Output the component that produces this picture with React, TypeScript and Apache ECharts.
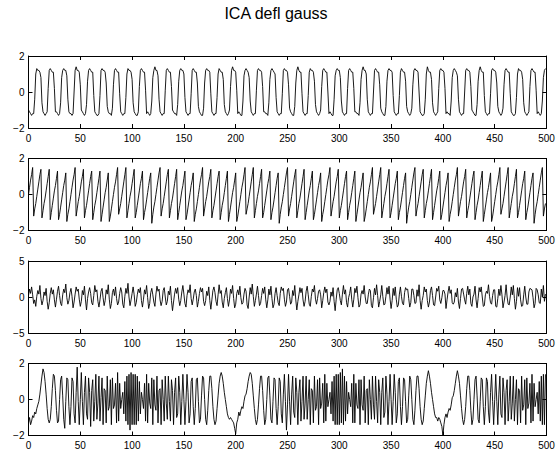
import React, { useEffect, useRef } from "react";
import * as echarts from "echarts";

const titleText = "ICA defl gauss";
const xMin = 0;
const xMax = 500;
const xStep = 50;
const yRanges = [
  [-2, 2, 2],
  [-2, 2, 2],
  [-5, 5, 5],
  [-2, 2, 2],
];

// signal 1: square-like wave
const s1 = [
  -1.0,-1.1,-1.2,-1.3,-1.2,-1.2,-0.4,1.0,1.3,1.2,1.2,1.1,0.8,
  -0.6,-1.1,-1.2,-1.3,-1.2,-1.1,0.2,1.2,1.3,1.2,1.1,1.1,0.2,
  -1.1,-1.1,-1.2,-1.3,-1.2,-0.6,0.8,1.2,1.3,1.2,1.2,0.9,
  -0.4,-1.1,-1.2,-1.2,-1.3,-1.2,0.0,1.2,1.4,1.2,1.2,1.1,0.4,
  -1.0,-1.1,-1.2,-1.3,-1.2,-0.7,0.6,1.2,1.3,1.2,1.1,1.1,
  -0.2,-1.1,-1.2,-1.3,-1.3,-1.2,-0.2,1.2,1.3,1.2,1.2,1.1,0.5,
  -0.8,-1.1,-1.2,-1.2,-1.3,-0.9,0.4,1.2,1.3,1.2,1.1,1.1,
  -0.1,-1.1,-1.2,-1.3,-1.2,-1.2,-0.3,1.0,1.3,1.2,1.2,1.1,0.7,
  -0.6,-1.1,-1.2,-1.3,-1.3,-1.1,0.3,1.2,1.3,1.2,1.1,1.1,0.1,
  -1.2,-1.1,-1.2,-1.3,-1.2,-0.5,0.8,1.2,1.4,1.2,1.2,0.9,
  -0.4,-1.1,-1.2,-1.3,-1.2,-1.2,0.1,1.2,1.3,1.2,1.1,1.1,0.3,
  -1.0,-1.1,-1.2,-1.2,-1.3,-0.7,0.6,1.2,1.3,1.2,1.2,1.0,
  -0.3,-1.1,-1.2,-1.3,-1.2,-1.2,-0.1,1.2,1.3,1.2,1.1,1.1,0.5,
  -0.8,-1.1,-1.2,-1.3,-1.3,-0.9,0.5,1.2,1.3,1.2,1.2,1.1,
  -0.1,-1.1,-1.2,-1.3,-1.2,-1.2,-0.3,1.0,1.3,1.2,1.1,1.1,0.7,
  -0.7,-1.1,-1.2,-1.3,-1.2,-1.0,0.3,1.2,1.4,1.2,1.2,1.1,0.1,
  -1.2,-1.1,-1.2,-1.3,-1.3,-0.5,0.9,1.2,1.3,1.2,1.1,0.8,
  -0.5,-1.1,-1.2,-1.3,-1.2,-1.2,0.1,1.2,1.3,1.2,1.2,1.1,0.3,
  -1.1,-1.1,-1.2,-1.2,-1.3,-0.6,0.7,1.2,1.3,1.2,1.1,1.0,
  -0.3,-1.1,-1.2,-1.3,-1.2,-1.2,-0.1,1.2,1.3,1.2,1.2,1.1,0.4,
  -0.9,-1.1,-1.2,-1.3,-1.3,-0.8,0.5,1.2,1.4,1.2,1.1,1.1,
  -0.1,-1.1,-1.2,-1.3,-1.2,-1.2,-0.2,1.1,1.3,1.2,1.2,1.1,0.6,
  -0.7,-1.1,-1.2,-1.3,-1.2,-1.0,0.3,1.2,1.3,1.2,1.1,1.1,0.0,
  -1.2,-1.1,-1.2,-1.3,-1.3,-0.4,0.9,1.2,1.3,1.2,1.2,0.8,
  -0.5,-1.1,-1.2,-1.3,-1.2,-1.2,0.2,1.2,1.3,1.2,1.1,1.1,0.2,
  -1.1,-1.1,-1.2,-1.2,-1.3,-0.6,0.7,1.2,1.4,1.2,1.2,1.0,
  -0.4,-1.1,-1.2,-1.3,-1.2,-1.2,0.0,1.2,1.3,1.2,1.1,1.1,0.4,
  -0.9,-1.1,-1.2,-1.3,-1.3,-0.8,0.6,1.2,1.3,1.2,1.2,1.1,
  -0.2,-1.1,-1.2,-1.3,-1.2,-1.2,-0.2,1.1,1.3,1.2,1.1,1.1,0.6,
  -0.8,-1.1,-1.2,-1.3,-1.2,-0.9,0.4,1.2,1.3,1.2,1.2,1.1,
  0.0,-1.1,-1.2,-1.3,-1.3,-1.2,-0.4,1.0,1.4,1.2,1.1,1.1,0.7,
  -0.6,-1.1,-1.2,-1.3,-1.2,-1.1,0.2,1.2,1.3,1.2,1.2,1.1,0.2,
  -1.2,-1.1,-1.2,-1.2,-1.3,-0.5,0.8,1.2,1.3,1.2,1.1,0.9,
  -0.4,-1.1,-1.2,-1.3,-1.2,-1.2,0.0,1.2,1.3,1.2,1.2,1.1,0.3,
  -1.0,-1.1,-1.2,-1.3,-1.3,-0.7,0.6,1.2,1.4,1.2,1.1,1.1,
  -0.2,-1.1,-1.2,-1.3,-1.2,-1.2,-0.1,1.2,1.3,1.2,1.2,1.1,0.5,
  -0.8,-1.1,-1.2,-1.3,-1.2,-0.9,0.4,1.2,1.3,1.2,1.1,1.1,
  -0.1,-1.1,-1.2,-1.3,-1.3,-1.2,-0.3,1.0,1.3,1.2,1.2,1.1,0.7,
  -0.6,-1.1,-1.2,-1.3,-1.2,-1.1,0.3,1.2,1.3,1.2,1.1,1.1,0.1,
  -1.2,-1.1,-1.2,-1.3,-1.2,-0.5,0.8,1.2,1.3,
];

// signal 2: sawtooth
const s2 = [
  0.0,0.4,0.8,1.1,1.5,
  -1.2,-0.8,-0.5,-0.1,0.3,0.7,1.1,1.4, -1.3,-0.9,-0.5,-0.2,0.2,0.6,1.0,1.4, -1.4,-1.0,-0.6,-0.2,0.2,0.5,0.9,1.3, -1.4,-1.1,-0.7,-0.3,0.1,0.5,0.8,1.2, -1.5,-1.1,-0.8,-0.4,0.0,0.4,0.8,1.1,1.5,
  -1.2,-0.8,-0.4,-0.1,0.3,0.7,1.0,1.4, -1.3,-0.9,-0.6,-0.2,0.2,0.6,1.0,1.3, -1.4,-1.0,-0.6,-0.3,0.1,0.5,0.9,1.3, -1.5,-1.1,-0.7,-0.3,0.1,0.4,0.8,1.2, -1.5,-1.2,-0.8,-0.4,0.0,0.4,0.7,1.1,1.5,
  -1.1,-0.8,-0.5,-0.1,0.3,0.7,1.1,1.5, -1.3,-0.9,-0.5,-0.1,0.2,0.6,1.0,1.4, -1.3,-1.0,-0.6,-0.2,0.2,0.6,0.9,1.3, -1.4,-1.0,-0.7,-0.3,0.1,0.5,0.9,1.2, -1.6,-1.1,-0.7,-0.4,0.0,0.4,0.8,1.2,1.5,
  -1.2,-0.8,-0.5,-0.1,0.3,0.7,1.1,1.4, -1.3,-0.9,-0.5,-0.2,0.2,0.6,1.0,1.4, -1.4,-1.0,-0.6,-0.2,0.2,0.5,0.9,1.3, -1.4,-1.1,-0.7,-0.3,0.1,0.5,0.8,1.2, -1.5,-1.1,-0.8,-0.4,0.0,0.4,0.8,1.1,1.5,
  -1.2,-0.8,-0.4,-0.1,0.3,0.7,1.0,1.4, -1.3,-0.9,-0.6,-0.2,0.2,0.6,1.0,1.3, -1.4,-1.0,-0.6,-0.3,0.1,0.5,0.9,1.3, -1.5,-1.1,-0.7,-0.3,0.1,0.4,0.8,1.2, -1.5,-1.2,-0.8,-0.4,0.0,0.4,0.7,1.1,1.5,
  -1.1,-0.8,-0.5,-0.1,0.3,0.7,1.1,1.5, -1.3,-0.9,-0.5,-0.1,0.2,0.6,1.0,1.4, -1.3,-1.0,-0.6,-0.2,0.2,0.6,0.9,1.3, -1.4,-1.0,-0.7,-0.3,0.1,0.5,0.9,1.2, -1.6,-1.1,-0.7,-0.4,0.0,0.4,0.8,1.2,1.5,
  -1.2,-0.8,-0.5,-0.1,0.3,0.7,1.1,1.4, -1.3,-0.9,-0.5,-0.2,0.2,0.6,1.0,1.4, -1.4,-1.0,-0.6,-0.2,0.2,0.5,0.9,1.3, -1.4,-1.1,-0.7,-0.3,0.1,0.5,0.8,1.2, -1.5,-1.1,-0.8,-0.4,0.0,0.4,0.8,1.1,1.5,
  -1.2,-0.8,-0.4,-0.1,0.3,0.7,1.0,1.4, -1.3,-0.9,-0.6,-0.2,0.2,0.6,1.0,1.3, -1.4,-1.0,-0.6,-0.3,0.1,0.5,0.9,1.3, -1.5,-1.1,-0.7,-0.3,0.1,0.4,0.8,1.2, -1.5,-1.2,-0.8,-0.4,0.0,0.4,0.7,1.1,1.5,
  -1.1,-0.8,-0.5,-0.1,0.3,0.7,1.1,1.5, -1.3,-0.9,-0.5,-0.1,0.2,0.6,1.0,1.4, -1.3,-1.0,-0.6,-0.2,0.2,0.6,0.9,1.3, -1.4,-1.0,-0.7,-0.3,0.1,0.5,0.9,1.2, -1.6,-1.1,-0.7,-0.4,0.0,0.4,0.8,1.2,1.5,
  -1.2,-0.8,-0.5,-0.1,0.3,0.7,1.1,1.4, -1.3,-0.9,-0.5,-0.2,0.2,0.6,1.0,1.4, -1.4,-1.0,-0.6,-0.2,0.2,0.5,0.9,1.3, -1.4,-1.1,-0.7,-0.3,0.1,0.5,0.8,1.2, -1.5,-1.1,-0.8,-0.4,0.0,0.4,0.8,1.1,1.5,
  -1.2,-0.8,-0.4,-0.1,0.3,0.7,1.0,1.4, -1.3,-0.9,-0.6,-0.2,0.2,0.6,1.0,1.3, -1.4,-1.0,-0.6,-0.3,0.1,0.5,0.9,1.3, -1.5,-1.1,-0.7,-0.3,0.1,0.4,0.8,1.2, -1.5,-1.2,-0.8,-0.4,0.0,0.4,0.7,1.1,1.5,
  -1.1,-0.8,-0.5,-0.1,0.3,0.7,1.1,1.5, -1.3,-0.9,-0.5,-0.1,0.2,0.6,1.0,1.4, -1.3,-1.0,-0.6,-0.2,0.2,0.6,0.9,1.3, -1.4,-1.0,-0.7,-0.3,0.1,0.5,0.9,1.2, -1.6,-1.1,-0.7,-0.4,0.0,0.4,0.8,1.2,1.5,
  -1.2,-0.8,-0.5,
];

// signal 3: noise-like
const s3 = [
  0.2,1.1,0.5,1.4,0.3,-0.9,-0.4,-1.3,0.1,0.9,
  0.4,1.6,-0.2,-1.1,-0.5,0.7,0.2,1.2,-0.6,-1.7,
  -0.8,0.5,1.3,0.4,1.0,-0.4,-1.4,-0.3,0.8,1.5,
  0.2,-0.9,-1.2,0.3,1.1,0.6,1.8,-0.1,-1.0,-0.5,
  0.6,1.2,0.1,-1.5,-0.7,0.4,1.4,0.8,1.1,-0.3,
  -1.3,-0.6,0.9,0.3,1.5,-0.4,-1.8,-0.2,0.7,1.3,
  0.5,-0.8,-1.1,0.2,1.6,0.7,1.0,-0.6,-1.4,-0.4,
  0.8,1.2,-0.1,-1.2,-0.5,1.0,0.4,1.7,-0.3,-1.6,
  -0.9,0.6,1.1,0.2,1.4,-0.2,-1.1,-0.7,0.5,1.3,
  0.7,-1.0,-1.5,0.1,1.2,0.5,1.9,0.0,-1.2,-0.4,
  0.5,1.4,0.3,-1.3,-0.8,0.3,1.1,0.6,1.3,-0.5,
  -1.4,-0.3,1.0,0.4,1.6,-0.1,-1.6,-0.9,0.6,1.2,
  0.3,-0.7,-1.3,0.4,1.5,0.8,1.1,-0.4,-1.2,-0.6,
  0.9,1.3,0.0,-1.1,-0.6,0.8,0.3,1.5,-0.5,-1.9,
  -0.7,0.4,1.2,0.5,1.3,-0.3,-1.2,-0.5,0.7,1.6,
  0.4,-0.9,-1.4,0.2,1.0,0.6,1.7,-0.2,-1.1,-0.3,
  0.7,1.1,0.2,-1.4,-0.6,0.5,1.3,0.7,1.2,-0.6,
  -1.2,-0.5,0.8,0.2,1.4,-0.5,-1.7,-0.4,0.9,1.4,
  0.6,-0.6,-1.2,0.3,1.7,0.5,0.9,-0.7,-1.5,-0.2,
  0.6,1.3,-0.2,-1.3,-0.4,1.1,0.5,1.6,-0.2,-1.5,
  -1.0,0.5,1.0,0.3,1.5,-0.1,-1.0,-0.8,0.4,1.2,
  0.8,-1.1,-1.6,0.0,1.3,0.4,1.8,0.1,-1.3,-0.5,
  0.4,1.5,0.2,-1.2,-0.9,0.2,1.2,0.5,1.4,-0.4,
  -1.5,-0.4,1.1,0.3,1.5,-0.2,-1.5,-1.0,0.5,1.3,
  0.2,-0.8,-1.2,0.5,1.4,0.9,1.2,-0.3,-1.3,-0.7,
  1.0,1.2,0.1,-1.0,-0.7,0.9,0.2,1.6,-0.4,-1.8,
  -0.6,0.3,1.3,0.6,1.2,-0.4,-1.3,-0.6,0.8,1.5,
  0.3,-1.0,-1.3,0.1,1.1,0.7,1.6,-0.3,-1.0,-0.2,
  0.8,1.0,0.3,-1.5,-0.5,0.6,1.4,0.6,1.1,-0.7,
  -1.1,-0.6,0.7,0.1,1.3,-0.6,-1.9,-0.3,1.0,1.3,
  0.5,-0.5,-1.1,0.4,1.6,0.4,1.0,-0.8,-1.4,-0.1,
  0.5,1.4,-0.3,-1.4,-0.3,1.2,0.6,1.5,-0.1,-1.4,
  -1.1,0.4,0.9,0.4,1.6,0.0,-0.9,-0.9,0.3,1.1,
  0.9,-1.2,-1.5,-0.1,1.2,0.3,1.7,0.2,-1.4,-0.6,
  0.3,1.6,0.1,-1.1,-1.0,0.1,1.3,0.4,1.5,-0.3,
  -1.6,-0.5,1.2,0.2,1.4,-0.3,-1.4,-1.1,0.4,1.4,
  0.1,-0.9,-1.1,0.6,1.3,1.0,1.1,-0.2,-1.4,-0.8,
  1.1,1.1,0.2,-0.9,-0.8,1.0,0.1,1.7,-0.5,-1.7,
  -0.5,0.2,1.4,0.7,1.1,-0.5,-1.4,-0.7,0.9,1.4,
  0.2,-1.1,-1.2,0.0,1.2,0.8,1.5,-0.4,-0.9,-0.1,
  0.9,0.9,0.4,-1.6,-0.4,0.7,1.5,0.5,1.0,-0.8,
  -1.0,-0.7,0.6,0.0,1.2,-0.7,-1.6,-0.2,1.1,1.2,
  0.4,-0.4,-1.0,0.5,1.5,0.3,1.1,-0.9,-1.3,0.0,
  0.4,1.5,-0.4,-1.5,-0.2,1.3,0.7,1.4,0.0,-1.3,
  -1.2,0.3,0.8,0.5,1.7,0.1,-0.8,-1.0,0.2,1.0,
  1.0,-1.3,-1.4,-0.2,1.1,0.2,1.6,0.3,-1.5,-0.7,
  0.2,1.7,0.0,-1.0,-1.1,0.0,1.4,0.3,1.6,-0.2,
  -1.7,-0.6,1.3,0.1,1.3,-0.4,-1.3,-1.2,0.3,1.5,
  0.0,-1.0,-1.0,0.7,1.2,1.1,1.0,-0.1,-1.5,-0.9,
  1.2,1.0,0.3,-0.8,-0.9,1.1,0.0,1.6,-0.6,0.4,
];

// signal 4: chirp-like
const s4 = [
  -1.3,-1.0,-1.4,-1.2,-0.9,-1.0,-0.7,-0.8,-0.5,-0.3,
  -0.1,0.3,0.8,1.3,1.7,1.5,1.0,0.3,-0.5,-1.1,
  -1.3,-1.1,-0.4,0.6,1.4,1.3,0.5,-0.6,-1.3,-1.2,
  0.0,1.1,1.3,0.2,-1.1,-1.6,-0.1,1.2,1.1,-0.4,
  -1.4,-0.4,1.2,1.0,-0.8,-1.3,0.4,1.8,-0.1,-1.4,
  0.0,1.5,-0.1,-1.4,0.4,1.3,-0.8,-1.1,1.2,0.4,
  -1.5,0.5,1.1,-1.2,-0.1,1.4,-1.1,-0.2,1.3,-1.2,
  0.1,1.2,-1.4,0.6,0.5,-1.3,1.3,-0.6,-0.4,1.1,
  -1.4,1.2,-0.5,-0.3,0.9,-1.3,1.5,-1.2,0.9,-0.5,
  0.0,0.4,-0.8,1.0,-1.2,1.3,-1.4,1.4,-1.7,1.5,
  -1.4,1.4,-1.4,1.4,-1.4,1.3,-1.2,1.0,-0.8,0.4,
  0.0,-0.5,0.9,-1.2,1.4,-1.3,0.9,-0.2,-0.5,1.2,
  -1.4,1.1,-0.3,-0.6,1.3,-1.3,0.5,0.6,-1.4,1.1,
  0.0,-1.2,1.3,-0.2,-1.1,1.3,-0.1,-1.2,1.1,0.5,
  -1.4,0.4,1.2,-1.0,-0.8,1.3,0.4,-1.4,-0.1,1.4,
  0.0,-1.4,-0.1,1.4,0.4,-1.3,-0.8,1.0,1.2,-0.4,
  -1.4,-0.5,1.1,1.2,-0.1,-1.3,-1.1,0.2,1.3,1.2,
  0.0,-1.1,-1.4,-0.6,0.5,1.3,1.3,0.6,-0.4,-1.1,
  -1.4,-1.2,-0.5,0.2,0.9,1.3,1.5,1.3,0.9,0.4,
  0.0,-0.4,-0.8,-1.0,-1.1,-1.0,-1.1,-1.2,-1.3,-1.6,
  -1.9,-1.3,-1.1,-0.7,-0.9,-0.6,-0.4,-0.5,-0.1,0.2,
  0.3,0.6,1.0,1.3,1.5,1.4,0.9,0.2,-0.5,-1.1,
  -1.4,-1.1,-0.3,0.6,1.3,1.3,0.5,-0.6,-1.4,-1.1,
  0.0,1.2,1.3,0.2,-1.1,-1.3,-0.1,1.2,1.1,-0.5,
  -1.4,-0.4,1.2,1.0,-0.8,-1.3,0.3,1.4,-0.1,-1.7,
  -0.3,1.4,-0.1,-1.4,0.3,1.3,-0.7,-1.0,1.2,0.4,
  -1.4,0.4,1.1,-1.2,-0.1,1.3,-1.1,-0.2,1.3,-1.1,
  0.0,1.1,-1.4,0.6,0.5,-1.3,1.3,-0.6,-0.4,1.1,
  -1.4,1.2,-0.5,-0.2,0.9,-1.3,1.4,-1.2,0.9,-0.4,
  0.0,0.4,-0.8,1.0,-1.2,1.3,-1.4,1.4,-1.4,1.4,
  -1.4,1.5,-1.3,1.7,-1.4,1.3,-1.2,1.0,-0.8,0.4,
  0.0,-0.4,0.9,-1.3,1.4,-1.3,0.9,-0.3,-0.5,1.1,
  -1.4,1.1,-0.3,-0.6,1.3,-1.3,0.5,0.6,-1.4,1.1,
  0.0,-1.1,1.3,-0.3,-1.1,1.3,-0.1,-1.3,1.1,0.4,
  -1.4,0.4,1.2,-1.0,-0.7,1.3,0.3,-1.4,-0.1,1.4,
  0.0,-1.4,-0.1,1.4,0.4,-1.3,-0.8,1.0,1.2,-0.4,
  -1.4,-0.4,1.2,1.1,-0.1,-1.3,-1.1,0.2,1.3,1.1,
  0.0,-1.1,-1.4,-0.6,0.5,1.3,1.3,0.6,-0.4,-1.1,
  -1.4,-1.2,-0.5,0.2,0.9,1.3,1.6,1.3,0.9,0.4,
  0.0,-0.4,-0.8,-1.0,-1.0,-1.2,-1.0,-1.1,-1.3,-1.5,
  -2.0,-1.4,-1.0,-0.8,-1.0,-0.7,-0.5,-0.6,-0.3,0.1,
  0.2,0.5,0.9,1.3,1.6,1.3,0.9,0.2,-0.5,-1.1,
  -1.4,-1.1,-0.4,0.6,1.3,1.3,0.5,-0.6,-1.4,-1.1,
  0.0,1.1,1.3,0.2,-1.1,-1.3,-0.1,1.2,1.1,-0.4,
  -1.4,-0.4,1.2,1.0,-0.7,-1.3,0.4,1.4,-0.1,-1.4,
  0.0,1.4,-0.1,-1.4,0.3,1.3,-0.8,-1.0,1.2,0.4,
  -1.4,0.5,1.1,-1.2,-0.1,1.3,-1.1,-0.2,1.3,-1.2,
  0.0,1.1,-1.4,0.6,0.5,-1.3,1.3,-0.6,-0.3,1.1,
  -1.4,1.2,-0.5,-0.2,0.9,-1.3,1.4,-1.2,0.9,-0.4,
  0.0,0.4,-0.8,1.0,-1.2,1.3,-1.4,1.4,-1.4,1.4,
];

const signals = [s1, s2, s3, s4];
const gridTops = [56, 158.5, 261, 363.5];
const FONT = "'Liberation Sans', Arial, Helvetica, sans-serif";

export default function App() {
  const ref = useRef<HTMLDivElement>(null);
  useEffect(() => {
    document.body.style.margin = "0";
    const chart = echarts.init(ref.current!, null, { renderer: "svg" });
    const axisLine = { show: true, onZero: false, lineStyle: { color: "#000", width: 1 } };
    const tick = { show: true, inside: true, length: 4, lineStyle: { color: "#000", width: 1 } };
    const minusFmt = (v: number) => (v < 0 ? "\u2212" + String(-v) : String(v));
    const grid: any[] = [];
    const xAxis: any[] = [];
    const yAxis: any[] = [];
    const series: any[] = [];
    signals.forEach((sig, i) => {
      grid.push({ left: 28.5, top: gridTops[i], width: 518, height: 72 });
      const [yMin, yMax, yStep] = yRanges[i];
      xAxis.push({
        gridIndex: i, type: "value", min: xMin, max: xMax, interval: xStep, position: "bottom",
        axisLine, axisTick: tick, splitLine: { show: false },
        axisLabel: { color: "#000", fontSize: 10, fontFamily: FONT, margin: 5 },
      });
      xAxis.push({
        gridIndex: i, type: "value", min: xMin, max: xMax, interval: xStep, position: "top",
        axisLine, axisTick: tick, splitLine: { show: false }, axisLabel: { show: false },
      });
      yAxis.push({
        gridIndex: i, type: "value", min: yMin, max: yMax, interval: yStep, position: "left",
        axisLine, axisTick: tick, splitLine: { show: false },
        axisLabel: { color: "#000", fontSize: 10, fontFamily: FONT, margin: 4, formatter: minusFmt },
      });
      yAxis.push({
        gridIndex: i, type: "value", min: yMin, max: yMax, interval: yStep, position: "right",
        axisLine, axisTick: tick, splitLine: { show: false }, axisLabel: { show: false },
      });
      series.push({
        type: "line", xAxisIndex: 2 * i, yAxisIndex: 2 * i,
        data: sig.map((v, k) => [k, v]),
        showSymbol: false, symbol: "none", silent: true,
        lineStyle: { color: "#000", width: 0.9 },
      });
    });
    chart.setOption({
      animation: false,
      backgroundColor: "#fff",
      graphic: [{
        type: "text", x: 276, y: 13,
        style: { text: titleText, fontSize: 16, fontFamily: FONT, fill: "#000", align: "center", verticalAlign: "middle" },
      }],
      grid, xAxis, yAxis, series,
    });
    return () => chart.dispose();
  }, []);
  return <div ref={ref} style={{ position: "absolute", left: 0, top: 0, width: 560, height: 451 }} />;
}
